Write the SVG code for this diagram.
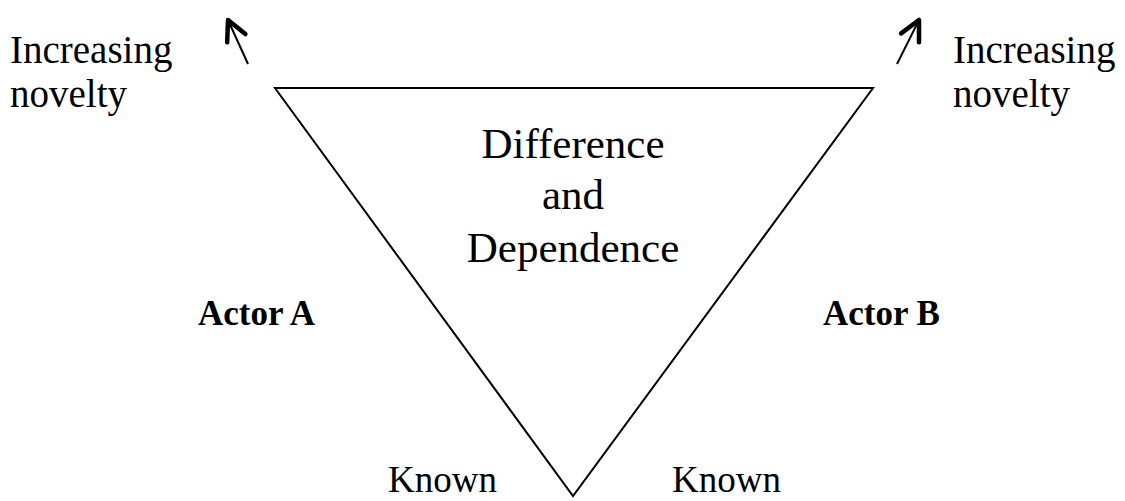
<svg xmlns="http://www.w3.org/2000/svg" width="1125" height="501" viewBox="0 0 1125 501">
<style>
.t{font-family:"Liberation Serif","Times New Roman",serif;fill:#000}
.r{font-size:39px}
.c{font-size:43px;text-anchor:middle}
.b{font-size:35px;font-weight:bold}
.k{font-size:37px}
.ln{stroke:#000;stroke-width:2;fill:none}
</style>
<defs>
<marker id="ah" markerUnits="userSpaceOnUse" viewBox="-25 -15 30 30" markerWidth="30" markerHeight="30" refX="0" refY="0" orient="auto">
<path d="M-20,-10 L0,0 L-20,10" fill="none" stroke="#000" stroke-width="4.5" stroke-linecap="round" stroke-linejoin="round"/>
</marker>
</defs>
<g id="triangle">
<polygon points="275,88 873,88 573,496" fill="none" stroke="#000" stroke-width="2"/>
<text class="t c" x="573" y="158">Difference</text>
<text class="t c" x="573" y="209">and</text>
<text class="t c" x="573" y="262">Dependence</text>
</g>
<g id="novelty-left">
<text class="t r" x="10" y="63">Increasing</text>
<text class="t r" x="10" y="107">novelty</text>
</g>
<g id="novelty-right">
<text class="t r" x="953" y="63">Increasing</text>
<text class="t r" x="953" y="107">novelty</text>
</g>
<g id="actor-a"><text class="t b" x="198" y="325">Actor A</text></g>
<g id="actor-b"><text class="t b" x="823" y="325">Actor B</text></g>
<g id="known-left"><text class="t k" x="388" y="492">Known</text></g>
<g id="known-right"><text class="t k" x="672" y="492">Known</text></g>
<g id="connectors">
<line class="ln" x1="248" y1="64" x2="228" y2="20" marker-end="url(#ah)"/>
<line class="ln" x1="897" y1="64" x2="919" y2="20" marker-end="url(#ah)"/>
</g>
</svg>
